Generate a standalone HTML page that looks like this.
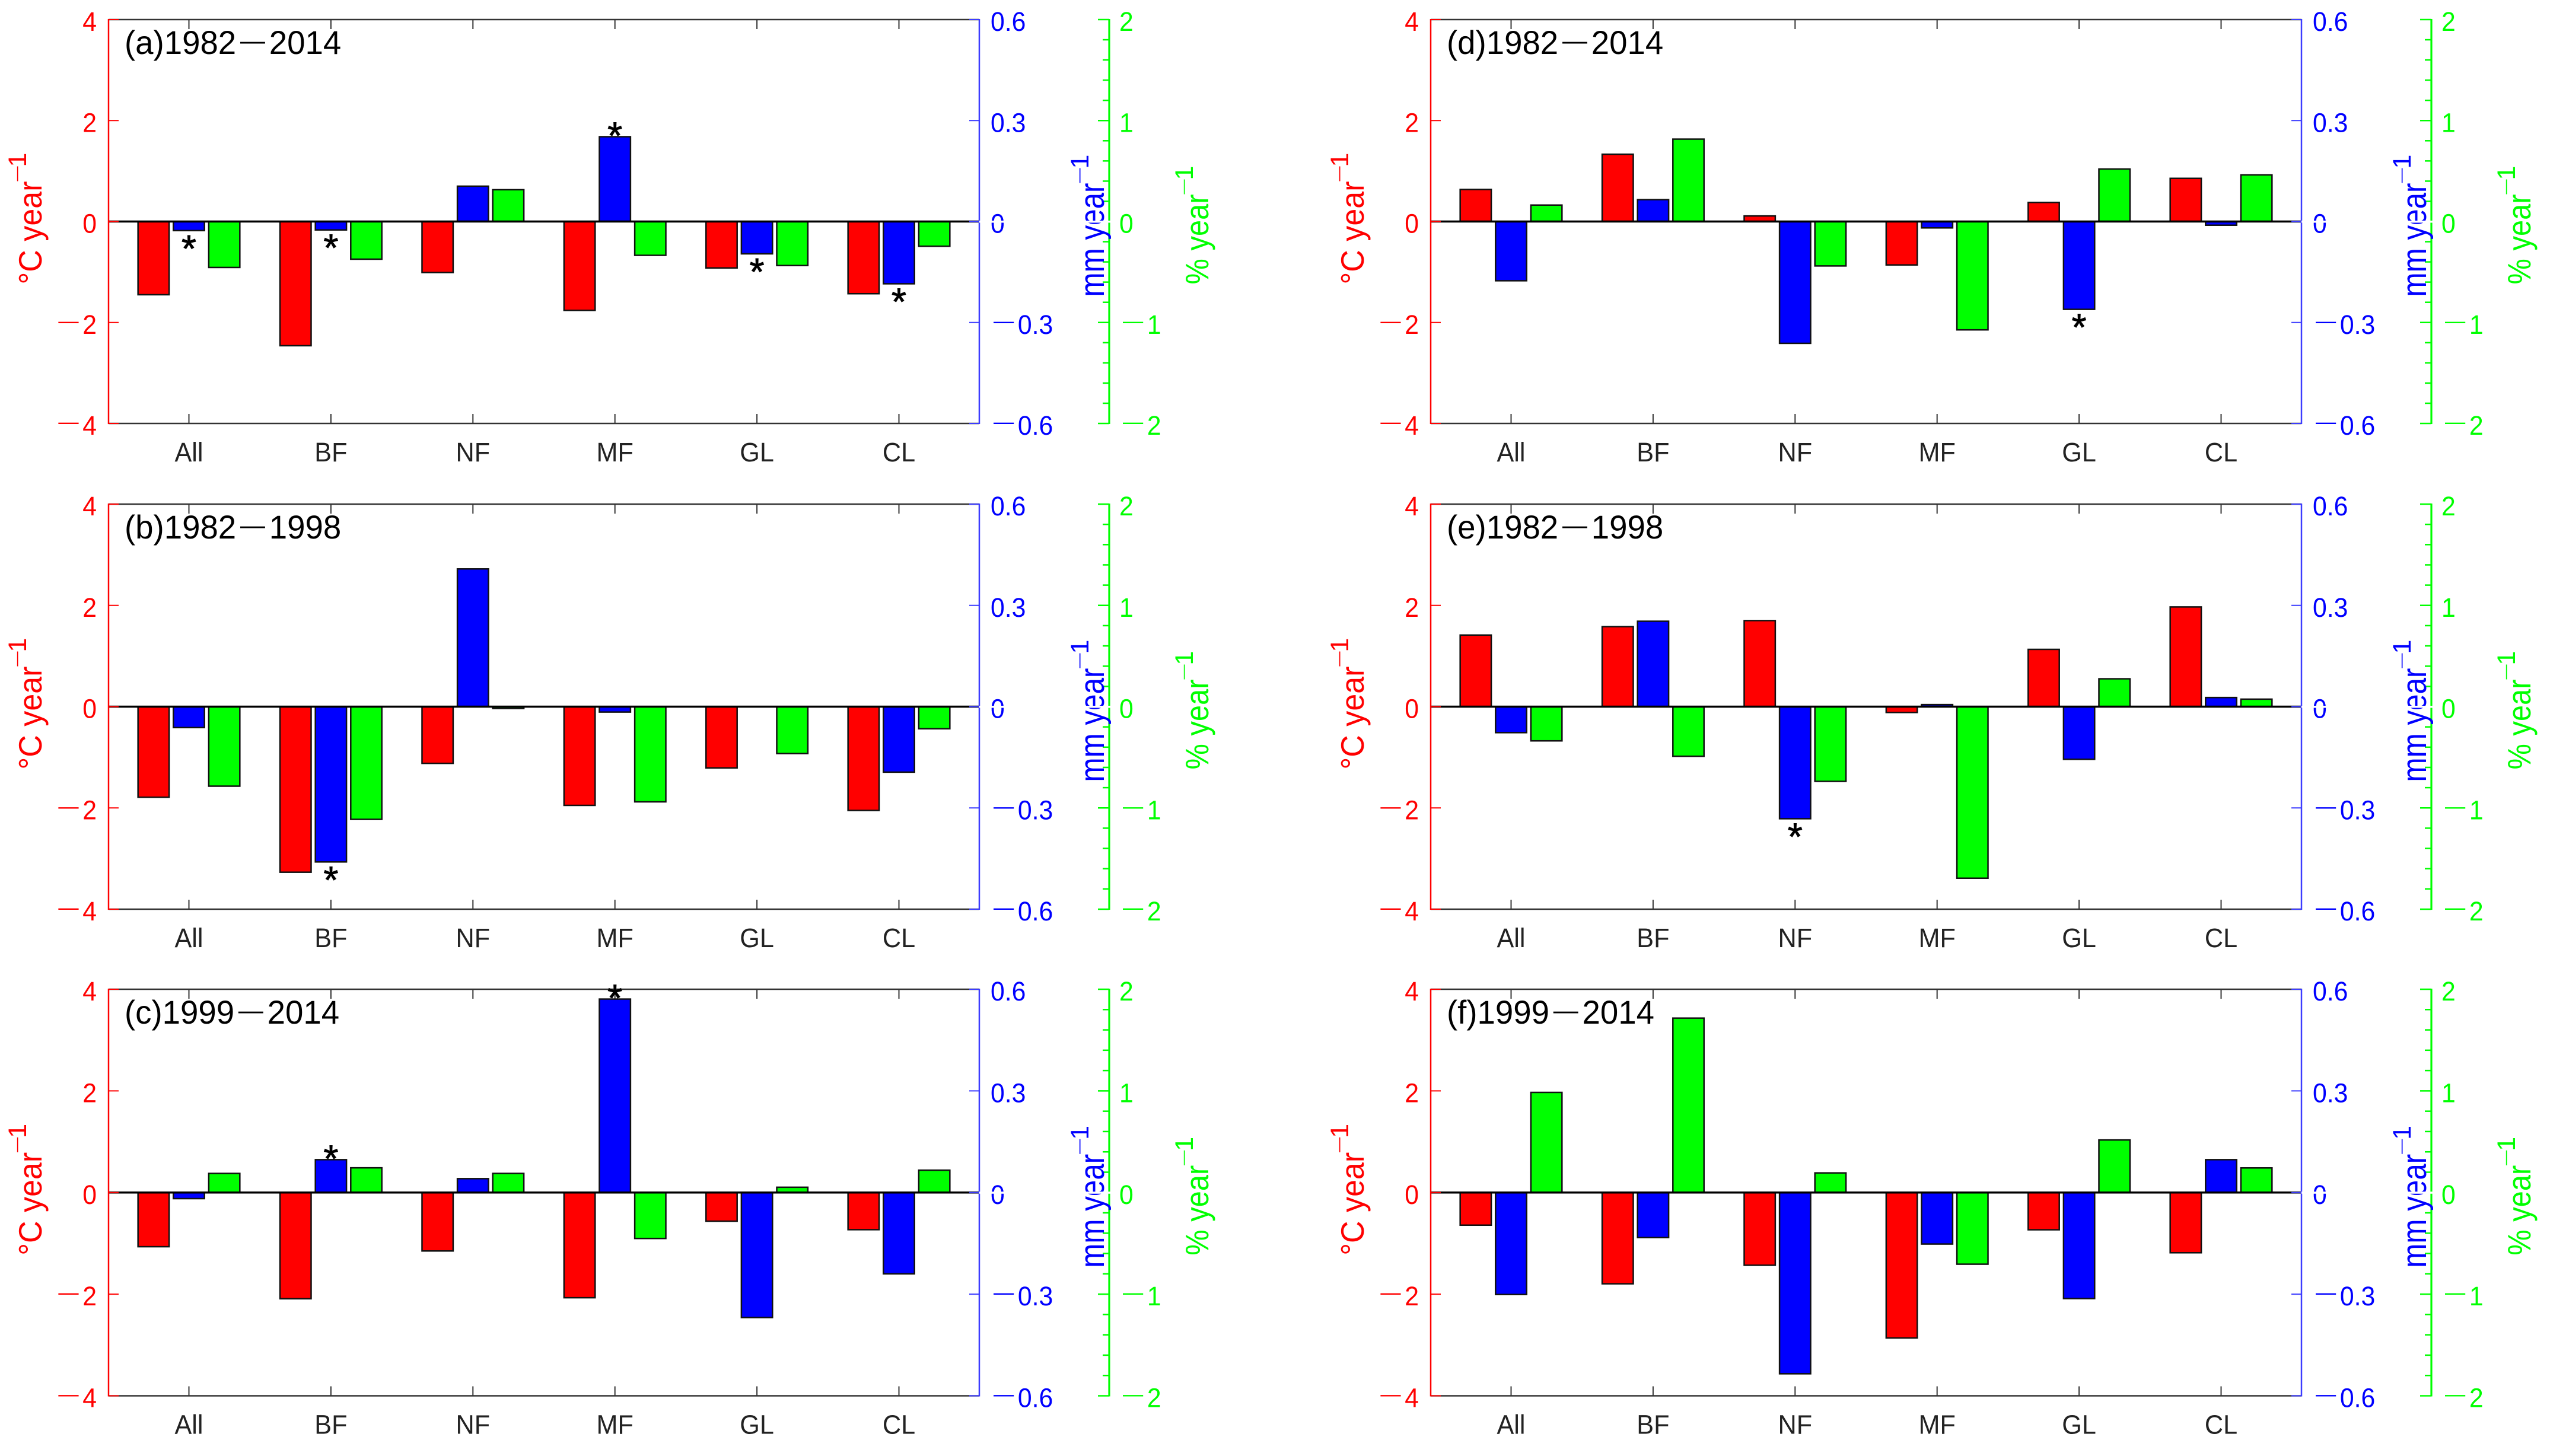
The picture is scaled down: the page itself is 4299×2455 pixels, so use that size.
<!DOCTYPE html>
<html lang="en">
<head>
<meta charset="utf-8">
<title>Trends by land cover type</title>
<style>
html,body{margin:0;padding:0;background:#fff;width:4299px;height:2455px;overflow:hidden}
svg{display:block;font-family:"Liberation Sans",Arial,sans-serif}
</style>
</head>
<body>
<svg id="chart" xmlns="http://www.w3.org/2000/svg" width="4299" height="2455" viewBox="0 0 4299 2455"></svg>
<script>
const categories = ['All', 'BF', 'NF', 'MF', 'GL', 'CL'];
const redTicks = [4, 2, 0, -2, -4];
const blueTicks = [0.6, 0.3, 0, -0.3, -0.6];
const greenTicks = [2, 1, 0, -1, -2];

const titleA = ['(a)', '1982', '2014'];
const redA = [-1.45, -2.46, -1.01, -1.76, -0.92, -1.43];
const blueA = [-0.027, -0.025, 0.105, 0.252, -0.096, -0.185];
const greenA = [-0.455, -0.373, 0.315, -0.335, -0.436, -0.245];
const starsA = [1, 1, 0, 1, 1, 1];

const titleB = ['(b)', '1982', '1998'];
const redB = [-1.79, -3.27, -1.12, -1.95, -1.21, -2.05];
const blueB = [-0.062, -0.46, 0.408, -0.016, 0, -0.194];
const greenB = [-0.785, -1.113, -0.018, -0.94, -0.463, -0.218];
const starsB = [0, 1, 0, 0, 0, 0];

const titleC = ['(c)', '1999', '2014'];
const redC = [-1.066, -2.09, -1.15, -2.07, -0.564, -0.731];
const blueC = [-0.018, 0.097, 0.041, 0.571, -0.369, -0.24];
const greenC = [0.188, 0.243, 0.188, -0.452, 0.052, 0.22];
const starsC = [0, 1, 0, 1, 0, 0];

const titleD = ['(d)', '1982', '2014'];
const redD = [0.635, 1.333, 0.11, -0.86, 0.378, 0.855];
const blueD = [-0.176, 0.065, -0.362, -0.019, -0.261, -0.011];
const greenD = [0.163, 0.816, -0.44, -1.073, 0.52, 0.462];
const starsD = [0, 0, 0, 0, 1, 0];

const titleE = ['(e)', '1982', '1998'];
const redE = [1.414, 1.581, 1.7, -0.115, 1.131, 1.969];
const blueE = [-0.077, 0.253, -0.332, 0.006, -0.156, 0.027];
const greenE = [-0.338, -0.49, -0.738, -1.694, 0.275, 0.074];
const starsE = [0, 0, 1, 0, 0, 0];

const titleF = ['(f)', '1999', '2014'];
const redF = [-0.642, -1.796, -1.431, -2.862, -0.733, -1.185];
const blueF = [-0.301, -0.133, -0.535, -0.152, -0.313, 0.097];
const greenF = [0.985, 1.716, 0.193, -0.705, 0.517, 0.242];
const starsF = [0, 0, 0, 0, 0, 0];

const NS = 'http://www.w3.org/2000/svg';
const svg = document.getElementById('chart');
const RED = '#ff0000', BLUE = '#0000ff', GREEN = '#00ff00', DARK = '#333333', AXBLUE = '#3c3cff';

function mk(tag, attrs, parent) {
  const el = document.createElementNS(NS, tag);
  for (const k in attrs) el.setAttribute(k, attrs[k]);
  (parent || svg).appendChild(el);
  return el;
}
function tspan(parent, text, attrs) {
  const t = document.createElementNS(NS, 'tspan');
  for (const k in attrs) t.setAttribute(k, attrs[k]);
  t.textContent = text;
  parent.appendChild(t);
  return t;
}
/* number text with a long thin minus sign; glyphs are slightly condensed like the source */
function numberLabel(parent, value, x, y, anchor, color, size) {
  const t = mk('text', {transform: 'translate(' + x + ',' + y + ') scale(0.95,1)', 'text-anchor': anchor, fill: color, 'font-size': size}, parent);
  if (value < 0) {
    tspan(t, '\u2014', {'font-size': 36, dy: -10});
    tspan(t, String(Math.abs(value)), {dx: 7, dy: 10});
  } else {
    t.textContent = String(value);
  }
  return t;
}
function unitLabel(parent, x, y, main, size, color, len) {
  const g = mk('g', {transform: 'translate(' + x + ',' + y + ') rotate(-90)'}, parent);
  const t = mk('text', {x: 0, y: 0, fill: color, 'font-size': size, textLength: len, lengthAdjust: 'spacingAndGlyphs'}, g);
  t.textContent = main;
  const d = mk('text', {x: len, y: -34, fill: color, 'font-size': 25}, g);
  d.textContent = '\u2014';
  const n = mk('text', {x: len + 24, y: -26, fill: color, 'font-size': 43}, g);
  n.textContent = '1';
  return g;
}

function drawPanel(cfg) {
  const L = cfg.left, R = L + 1468, T = cfg.top, B = cfg.bottom;
  const H = B - T, Z = (T + B) / 2, GX = L + 1687;
  const unit = (R - L) / 6.132;
  const xScale = function (i) { return L + (i + 1 - 0.434) * unit; };
  const yRed = function (v) { return Z - v / 4 * H / 2; };
  const yBlue = function (v) { return Z - v / 0.6 * H / 2; };
  const yGreen = function (v) { return Z - v / 2 * H / 2; };

  const panel = mk('g', {});
  
  

  /* top and bottom axes */
  const topAxis = mk('line', {x1: L, x2: R, y1: T, y2: T, stroke: DARK, 'stroke-width': 2.5}, panel);
  
  
  const bottomAxis = mk('line', {x1: L, x2: R, y1: B, y2: B, stroke: DARK, 'stroke-width': 2.5}, panel);
  
  

  categories.forEach(function (c, i) {
    const x = xScale(i);
    const t1 = mk('line', {x1: x, x2: x, y1: T, y2: T + 16, stroke: DARK, 'stroke-width': 2}, panel);
    
    
    const t2 = mk('line', {x1: x, x2: x, y1: B, y2: B - 16, stroke: DARK, 'stroke-width': 2}, panel);
    
    
    const lab = mk('text', {transform: 'translate(' + x + ',' + (B + 64) + ') scale(0.96,1)', 'text-anchor': 'middle', fill: '#222222', 'font-size': 45}, panel);
    lab.textContent = c;
    
    
  });

  /* bars */
  const series = [
    {name: 'temperature', vals: cfg.red, y: yRed, color: RED, off: -0.249},
    {name: 'precipitation', vals: cfg.blue, y: yBlue, color: BLUE, off: 0},
    {name: 'ndvi', vals: cfg.green, y: yGreen, color: GREEN, off: 0.249}
  ];
  series.forEach(function (s) {
    s.vals.forEach(function (v, i) {
      if (v === 0) return;
      const y = s.y(v);
      const w = 0.219 * unit;
      const bar = mk('rect', {
        x: xScale(i) + s.off * unit - w / 2,
        y: Math.min(y, Z),
        width: w,
        height: Math.abs(y - Z),
        fill: s.color,
        stroke: '#111111',
        'stroke-width': 2.5
      }, panel);
      
      
    });
  });

  /* zero line */
  const zero = mk('line', {x1: L, x2: R, y1: Z, y2: Z, stroke: '#000000', 'stroke-width': 3.5}, panel);
  
  

  /* significance stars */
  cfg.stars.forEach(function (on, i) {
    if (!on) return;
    const v = cfg.blue[i];
    const cy = yBlue(v) + (v < 0 ? 15 : -17);
    const st = mk('text', {x: xScale(i), y: cy + 37, 'text-anchor': 'middle', fill: '#000000', 'font-size': 64}, panel);
    st.textContent = '*';
    
    
    st.setAttribute('stroke', '#000000');
    st.setAttribute('stroke-width', '1');
  });

  /* red axis */
  const redAxis = mk('line', {x1: L, x2: L, y1: T - 1, y2: B + 1, stroke: RED, 'stroke-width': 2.5}, panel);
  
  
  redTicks.forEach(function (v) {
    const y = yRed(v);
    const tk = mk('line', {x1: L, x2: L + 17, y1: y, y2: y, stroke: RED, 'stroke-width': 2}, panel);
    
    
    const lb = numberLabel(panel, v, L - 20, y + 19, 'end', RED, 45);
    
    
  });

  /* blue axis */
  const blueAxis = mk('line', {x1: R, x2: R, y1: T - 1, y2: B + 1, stroke: AXBLUE, 'stroke-width': 2.5}, panel);
  
  
  blueTicks.forEach(function (v) {
    const y = yBlue(v);
    const tk = mk('line', {x1: R, x2: R - 17, y1: y, y2: y, stroke: AXBLUE, 'stroke-width': 2}, panel);
    
    
    const lb = numberLabel(panel, v, R + (v < 0 ? 24 : 19), y + 19, 'start', BLUE, 45);
    
    
  });

  /* green axis */
  const greenAxis = mk('line', {x1: GX, x2: GX, y1: T - 1, y2: B + 1, stroke: GREEN, 'stroke-width': 3.2}, panel);
  
  
  for (let k = -10; k <= 10; k++) {
    const y = yGreen(k * 0.2);
    const major = k % 5 === 0;
    const tk = mk('line', {x1: GX, x2: GX - (major ? 19 : 11), y1: y, y2: y, stroke: GREEN, 'stroke-width': 2.5}, panel);
    
    
  }
  greenTicks.forEach(function (v) {
    const lb = numberLabel(panel, v, GX + (v < 0 ? 23 : 17), yGreen(v) + 19, 'start', GREEN, 45);
    
    
  });

  /* axis unit labels */
  const lr = unitLabel(panel, L - 113, Z + 106, '\u00B0C year', 55, RED, 174);
  
  
  const lb = unitLabel(panel, R + 210, Z + 127, 'mm year', 58, BLUE, 192);
  
  
  const lg = unitLabel(panel, GX + 167, Z + 106, '% year', 55, GREEN, 152);
  
  

  /* white band crossing right side at zero level */
  const band = mk('rect', {x: R, y: Z - 1.5, width: GX - R + 2, height: 3.5, fill: '#ffffff'}, panel);
  
  

  /* panel title */
  const title = mk('text', {transform: 'translate(' + (L + 27) + ',' + (T + 58) + ') scale(0.975,1)', fill: '#000000', 'font-size': 56}, panel);
  tspan(title, cfg.title[0] + cfg.title[1], {});
  tspan(title, '\u2014', {'font-size': 43, dx: 7, dy: -8});
  tspan(title, cfg.title[2], {dx: 7, dy: 8});
  
  
}

drawPanel({id: 'a', left: 183, top: 33, bottom: 714, title: titleA, red: redA, blue: blueA, green: greenA, stars: starsA});
drawPanel({id: 'b', left: 183, top: 850, bottom: 1533, title: titleB, red: redB, blue: blueB, green: greenB, stars: starsB});
drawPanel({id: 'c', left: 183, top: 1668, bottom: 2353.5, title: titleC, red: redC, blue: blueC, green: greenC, stars: starsC});
drawPanel({id: 'd', left: 2412, top: 33, bottom: 714, title: titleD, red: redD, blue: blueD, green: greenD, stars: starsD});
drawPanel({id: 'e', left: 2412, top: 850, bottom: 1533, title: titleE, red: redE, blue: blueE, green: greenE, stars: starsE});
drawPanel({id: 'f', left: 2412, top: 1668, bottom: 2353.5, title: titleF, red: redF, blue: blueF, green: greenF, stars: starsF});
</script>
</body>
</html>
